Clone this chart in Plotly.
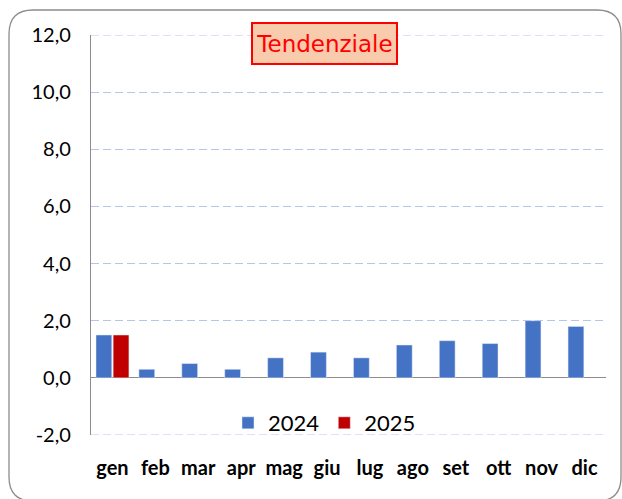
import plotly.graph_objects as go

months = ["gen", "feb", "mar", "apr", "mag", "giu", "lug", "ago", "set", "ott", "nov", "dic"]
vals_2024 = [1.5, 0.3, 0.5, 0.3, 0.7, 0.9, 0.7, 1.15, 1.3, 1.2, 2.0, 1.8]
months_2025 = ["gen"]
vals_2025 = [1.5]
y_ticks = [-2, 0, 2, 4, 6, 8, 10, 12]
y_tick_text = [f"{v:.1f}".replace(".", ",") for v in y_ticks]

W, H = 622, 499
ML, MR, MT, MB = 91, 16, 35, 64
PW, PH = W - ML - MR, H - MT - MB
GRID = "#b4c7e7"


def px(x):
    return (x - ML) / PW


def py(y):
    return (H - MB - y) / PH


fig = go.Figure()
fig.add_trace(go.Bar(x=months, y=vals_2024, name="2024", marker_color="#4472c4"))
fig.add_trace(go.Bar(x=months_2025, y=vals_2025, name="2025", marker_color="#c00000"))

# rounded outer frame
x0, y0, x1, y1, r = 9, 10, 621, 501, 24
path = (
    f"M {px(x0 + r)},{py(y0)} L {px(x1 - r)},{py(y0)} Q {px(x1)},{py(y0)} {px(x1)},{py(y0 + r)} "
    f"L {px(x1)},{py(y1 - r)} Q {px(x1)},{py(y1)} {px(x1 - r)},{py(y1)} "
    f"L {px(x0 + r)},{py(y1)} Q {px(x0)},{py(y1)} {px(x0)},{py(y1 - r)} "
    f"L {px(x0)},{py(y0 + r)} Q {px(x0)},{py(y0)} {px(x0 + r)},{py(y0)} Z"
)
fig.add_shape(type="path", path=path, xref="paper", yref="paper",
              line=dict(color="#8c8c8c", width=1.3), layer="below")

# gridlines at the range ends (Plotly omits them)
for yv in (y_ticks[0], y_ticks[-1]):
    fig.add_shape(type="line", xref="paper", yref="y", x0=0, x1=1, y0=yv, y1=yv,
                  line=dict(color=GRID, width=1.2, dash="8px,4px"), layer="below")

fig.add_annotation(
    x=px(324), y=py(43.5), xref="paper", yref="paper", xanchor="center", yanchor="middle",
    text="Tendenziale", showarrow=False,
    font=dict(family="DejaVu Sans", size=23, color="#ff0000"),
    bgcolor="#f8cbad", bordercolor="#ff0000", borderwidth=2, borderpad=0,
    width=143, height=39,
)

fig.update_layout(
    width=W, height=H,
    margin=dict(l=ML, r=MR, t=MT, b=MB),
    paper_bgcolor="white", plot_bgcolor="white",
    barmode="group", bargap=0.2, bargroupgap=0.08,
    font=dict(family="Lato", color="#000000"),
    showlegend=True,
    legend=dict(orientation="h", x=px(228), y=py(423), xanchor="left", yanchor="middle",
                font=dict(family="Lato", size=22, color="#000000"),
                bgcolor="rgba(0,0,0,0)", itemclick=False),
    xaxis=dict(
        categoryorder="array", categoryarray=months,
        showgrid=False, showline=False, ticks="",
        tickfont=dict(family="Lato", size=20, color="#000000", weight="bold"),
        ticklabelstandoff=19,
    ),
    yaxis=dict(
        range=[-2, 12], tickvals=y_ticks, ticktext=y_tick_text,
        showgrid=True, gridcolor=GRID, griddash="8px,4px", gridwidth=1.2,
        zeroline=True, zerolinecolor="#8c8c8c", zerolinewidth=1.3,
        showline=True, linecolor="#8c8c8c", linewidth=1.3,
        ticks="", tickfont=dict(family="Lato", size=20, color="#000000"),
        ticklabelstandoff=15,
    ),
)

fig.write_html("out.html", config={"displayModeBar": False},
               post_script="document.body.style.margin='0';")
